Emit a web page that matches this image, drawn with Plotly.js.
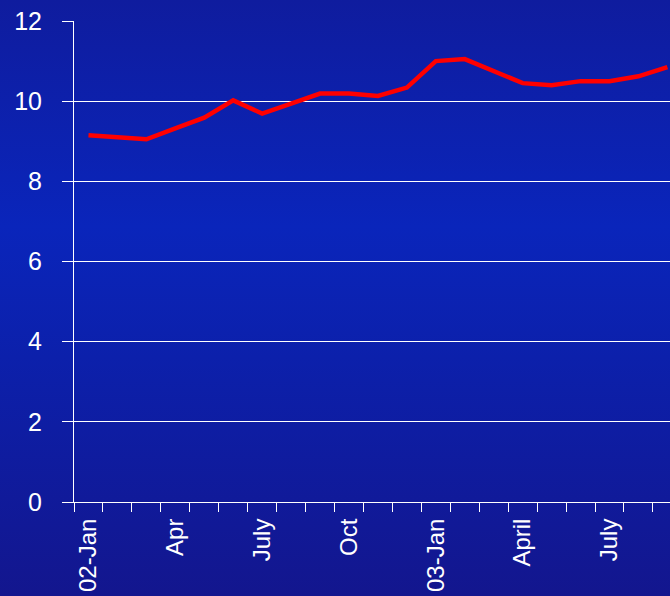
<!DOCTYPE html>
<html>
<head>
<meta charset="utf-8">
<script src="https://cdn.plot.ly/plotly-3.0.1.min.js"></script>
<style>
  html, body { margin: 0; padding: 0; }
  #chart {
    width: 670px; height: 596px;
    background: linear-gradient(to bottom, #0f1c9e 0%, #0a25bb 38%, #0c20ab 60%, #13168e 100%);
  }
</style>
</head>
<body>
<div id="chart"></div>
<script>
// Monthly categories (Jan 2002 .. Sep 2003)
const categories = ['2002-01','2002-02','2002-03','2002-04','2002-05','2002-06','2002-07',
  '2002-08','2002-09','2002-10','2002-11','2002-12','2003-01','2003-02','2003-03','2003-04',
  '2003-05','2003-06','2003-07','2003-08','2003-09'];
const values = [9.15, 9.10, 9.05, 9.32, 9.59, 10.02, 9.69, 9.94, 10.19, 10.19, 10.13, 10.34,
  11.00, 11.05, 10.75, 10.45, 10.40, 10.50, 10.50, 10.62, 10.85];
const tickCategories = ['2002-01','2002-04','2002-07','2002-10','2003-01','2003-04','2003-07'];
const tickLabels = ['02-Jan','Apr','July','Oct','03-Jan','April','July'];
const yTicks = [0, 2, 4, 6, 8, 10, 12];

const xIdx = categories.map((c, i) => i);
const tickIdx = tickCategories.map(c => categories.indexOf(c));

const font = 'Liberation Sans, Arial, sans-serif';

Plotly.newPlot('chart', [{
  x: xIdx,
  y: values,
  type: 'scatter',
  mode: 'lines',
  line: { color: '#ff0000', width: 4.5 },
  hoverinfo: 'skip'
}], {
  width: 670, height: 596,
  margin: { l: 74, r: 0, t: 21, b: 94, pad: 0 },
  paper_bgcolor: 'rgba(0,0,0,0)',
  plot_bgcolor: 'rgba(0,0,0,0)',
  showlegend: false,
  xaxis: {
    range: [-0.5, 20.09],
    tickmode: 'array',
    tickvals: tickIdx,
    ticktext: tickLabels,
    tickangle: -90,
    ticks: '',
    ticklabelstandoff: 6,
    showgrid: false,
    zeroline: false,
    showline: true,
    linecolor: '#ffffff',
    linewidth: 1,
    tickfont: { family: font, size: 24, color: '#ffffff' },
    minor: { tickmode: 'linear', tick0: -0.5, dtick: 1, ticks: 'outside', ticklen: 9,
             tickcolor: '#ffffff', tickwidth: 1, showgrid: false }
  },
  yaxis: {
    range: [0, 12],
    tickmode: 'array',
    tickvals: yTicks,
    ticks: 'outside',
    ticklen: 11,
    tickcolor: '#ffffff',
    ticklabelstandoff: 15,
    showgrid: true,
    gridcolor: '#ffffff',
    gridwidth: 1,
    zeroline: false,
    showline: true,
    linecolor: '#ffffff',
    linewidth: 1,
    tickfont: { family: font, size: 25, color: '#ffffff' }
  }
}, { displayModeBar: false, staticPlot: true });
</script>
</body>
</html>
